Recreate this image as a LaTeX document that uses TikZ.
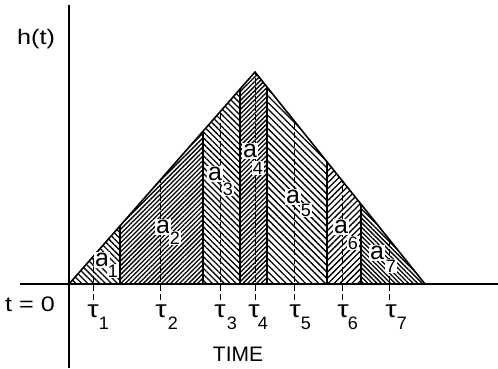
\documentclass[tikz,border=0pt]{standalone}
\usepackage{fontspec}
\setmainfont{Liberation Sans}
\usetikzlibrary{patterns.meta}
\newcommand{\wide}[1]{\scalebox{1.2}[1]{#1}}
\begin{document}
\begin{tikzpicture}[x=1pt,y=-1pt,
  axisline/.style={line width=2pt},
  edgeline/.style={line width=1.6pt,line join=miter},
  divline/.style={line width=1.3pt},
  tauline/.style={line width=1pt,dash pattern=on 6pt off 3pt},
  hatchbk/.style={pattern={Lines[angle=-45,distance=#1,line width=1.3pt]}},
  hatchfw/.style={pattern={Lines[angle=45,distance=#1,line width=1.3pt]}},
  bigtxt/.style={font=\fontsize{21}{21}\selectfont,inner sep=0pt},
  taulab/.style={font=\fontsize{24}{24}\selectfont,inner sep=0pt},
  sublab/.style={font=\fontsize{18}{18}\selectfont,inner sep=0pt},
  alab/.style={font=\fontsize{25}{25}\selectfont,fill=white,inner sep=1pt},
  asub/.style={font=\fontsize{18}{18}\selectfont,fill=white,inner sep=1pt}]
\useasboundingbox (0,0) rectangle (498,368);
% strips
\fill[hatchbk=4.2pt] (69,284)--(120,225.9)--(120,284)--cycle;
\fill[hatchfw=3.2pt] (120,284)--(120,225.9)--(203,131.3)--(203,284)--cycle;
\fill[hatchbk=4.2pt] (203,284)--(203,131.3)--(240,89.1)--(240,284)--cycle;
\fill[hatchfw=3.2pt] (240,284)--(240,89.1)--(255,72)--(267,87)--(267,284)--cycle;
\fill[hatchbk=4.6pt] (267,284)--(267,87)--(327,161.8)--(327,284)--cycle;
\fill[hatchfw=4.2pt] (327,284)--(327,161.8)--(361,204.2)--(361,284)--cycle;
\fill[hatchbk=3.2pt] (361,284)--(361,204.2)--(425,284)--cycle;
% coordinates
\coordinate (O) at (69,284);
\coordinate (A) at (255,72);
\coordinate (R) at (425,284);
% dividers
\draw[divline] (120,284)--(120,225.9);
\draw[divline] (203,284)--(203,131.3);
\draw[divline] (240,284)--(240,89.1);
\draw[divline] (267,284)--(267,87);
\draw[divline] (327,284)--(327,161.8);
\draw[divline] (361,284)--(361,204.2);
% tau lines
\draw[tauline] (93,300)--(93,256.6);
\draw[tauline] (160,300)--(160,180.3);
\draw[tauline] (220,300)--(220,111.9);
\draw[tauline] (255,300)--(A);
\draw[tauline] (294,300)--(294,120.6);
\draw[tauline] (342,300)--(342,180.5);
\draw[tauline] (389,300)--(389,239.1);
% triangle edges
\draw[edgeline] (O)--(A)--(R);
% axes
\coordinate (vt) at (69,5);
\coordinate (vb) at (69,368);
\coordinate (hl) at (20,284);
\coordinate (hr) at (498,284);
\draw[axisline] (vt)--(vb);
\draw[axisline] (hl)--(hr);
% axis labels
\node[bigtxt] (ht) at (36,39) {\wide{h(t)}};
\node[bigtxt] (t0) at (30,304) {\wide{t = 0}};
\node[bigtxt] (time) at (238,354) {TIME};
% tau labels
\node[taulab] (tau1) at (93,311) {\wide{τ}};   \node[sublab] (s1) at (104,323) {1};
\node[taulab] (tau2) at (161,311) {\wide{τ}};  \node[sublab] (s2) at (173,323) {2};
\node[taulab] (tau3) at (220,311) {\wide{τ}};  \node[sublab] (s3) at (232,323) {3};
\node[taulab] (tau4) at (254,311) {\wide{τ}};  \node[sublab] (s4) at (263,323) {4};
\node[taulab] (tau5) at (295,311) {\wide{τ}};  \node[sublab] (s5) at (306,323) {5};
\node[taulab] (tau6) at (343,311) {\wide{τ}};  \node[sublab] (s6) at (353,323) {6};
\node[taulab] (tau7) at (391,311) {\wide{τ}};  \node[sublab] (s7) at (402,323) {7};
% area labels
\node[alab] (a1) at (102,260) {a}; \node[asub] (b1) at (113,271) {1};
\node[alab] (a2) at (163,227) {a}; \node[asub] (b2) at (175,238) {2};
\node[alab] (a3) at (215,174) {a}; \node[asub] (b3) at (228,189) {3};
\node[alab] (a4) at (250,151) {a}; \node[asub] (b4) at (258,168) {4};
\node[alab] (a5) at (293,197) {a}; \node[asub] (b5) at (306,210) {5};
\node[alab] (a6) at (341,227) {a}; \node[asub] (b6) at (353,243) {6};
\node[alab] (a7) at (377,253) {a}; \node[asub] (b7) at (391,266) {7};
\end{tikzpicture}
\end{document}
